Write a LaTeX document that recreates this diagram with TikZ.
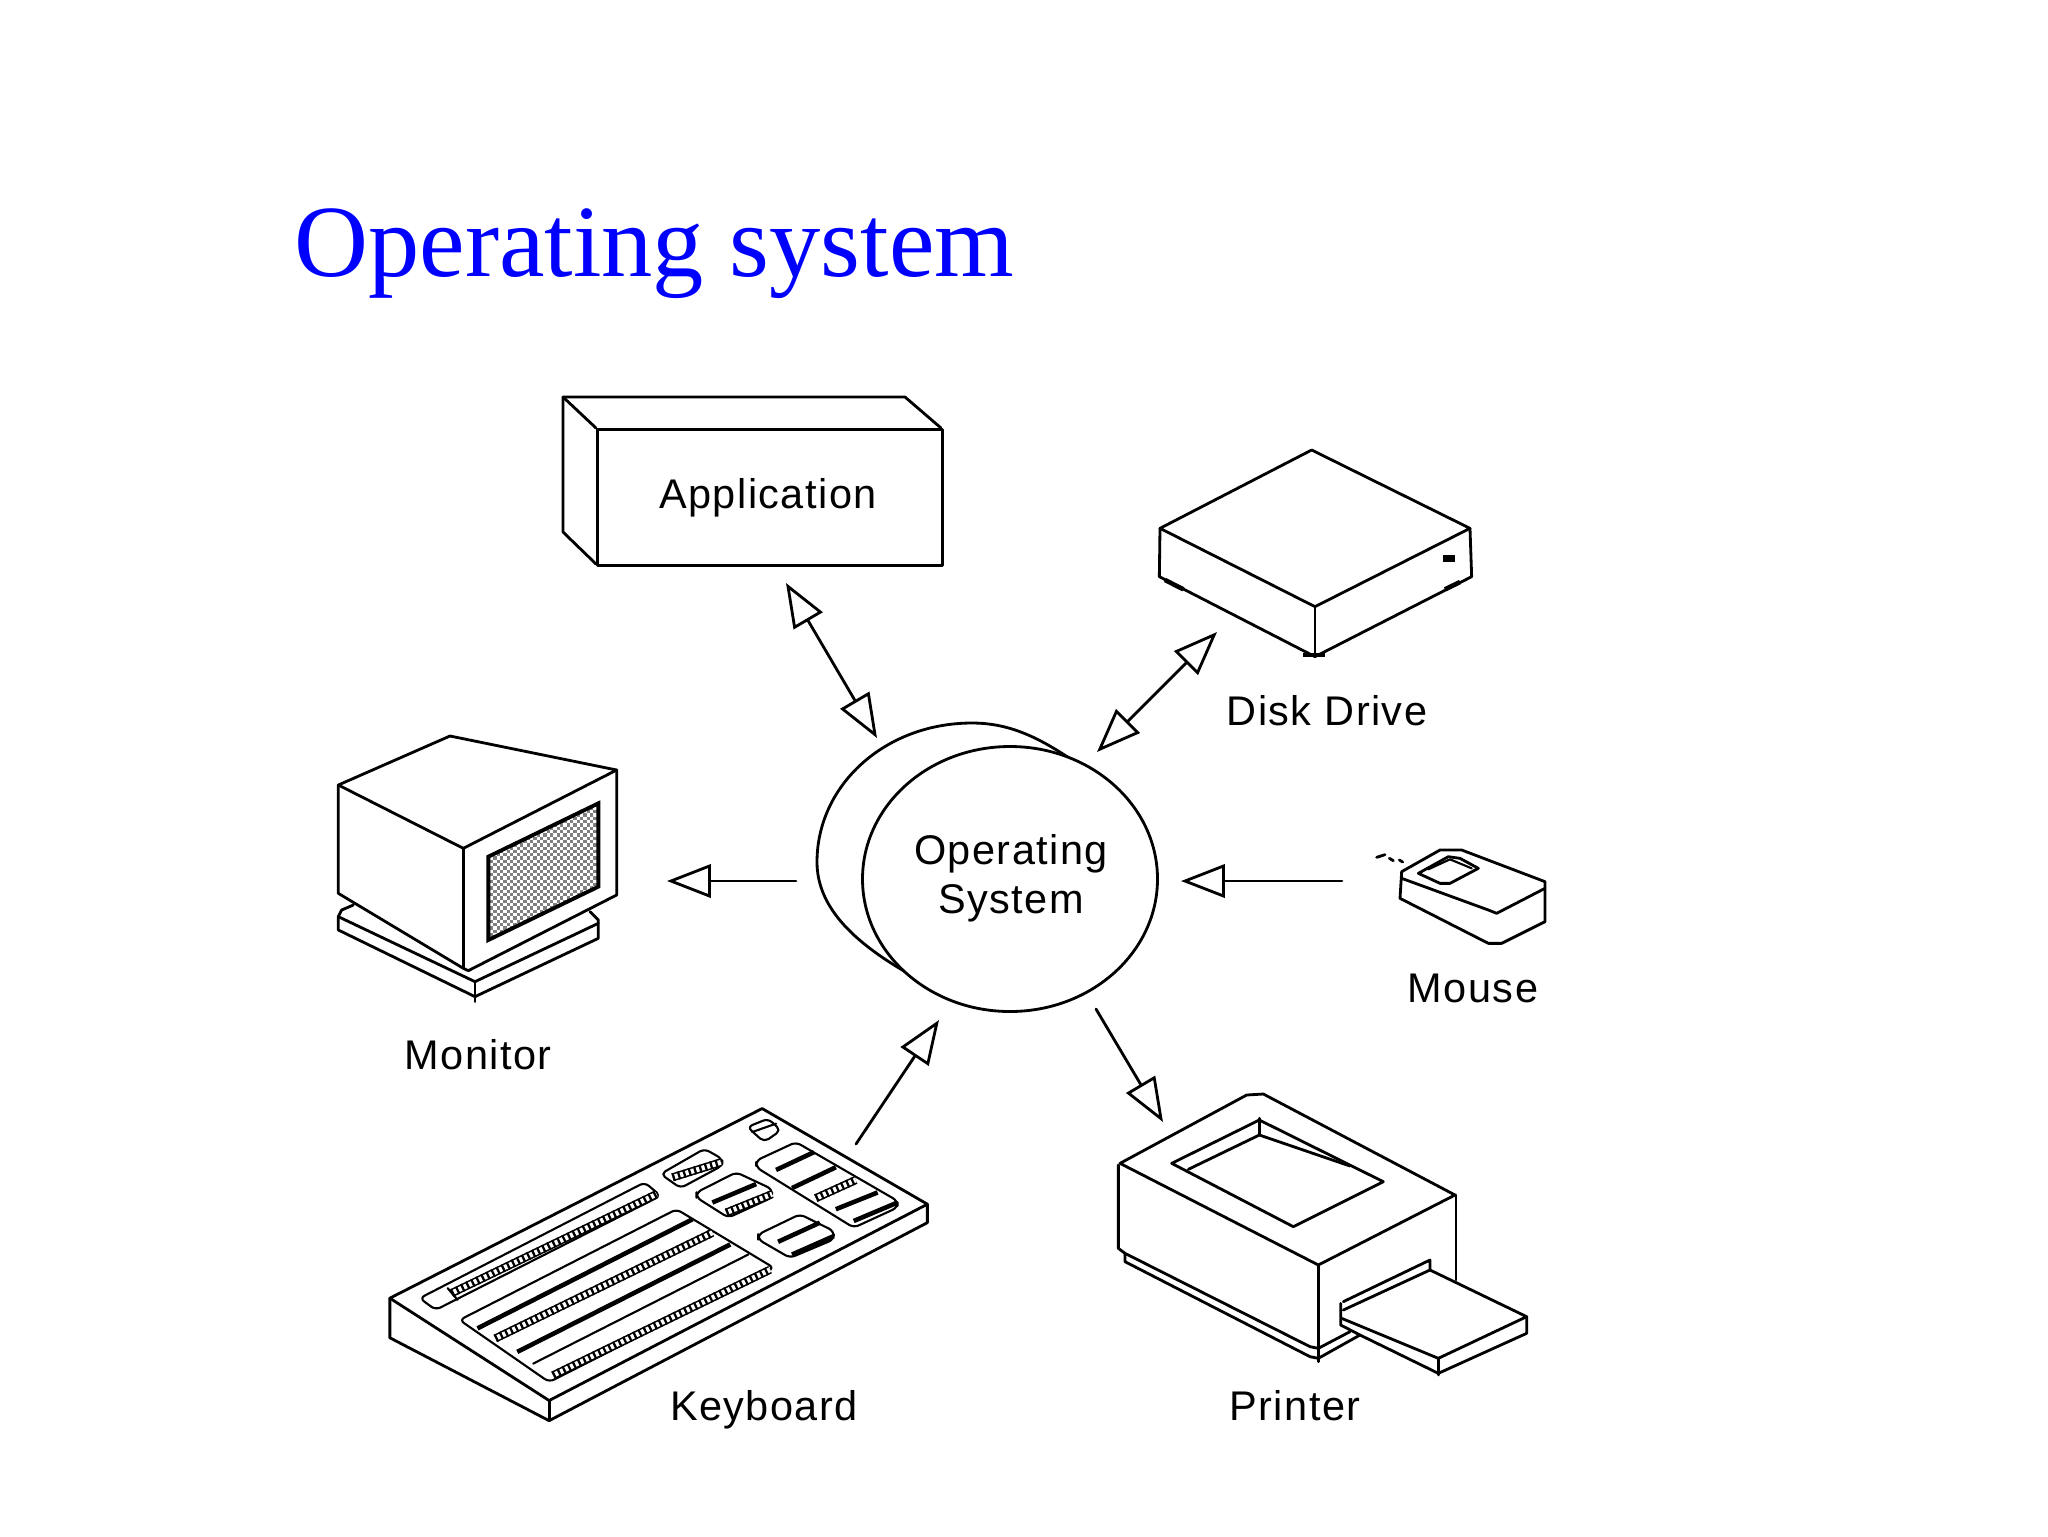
\documentclass[tikz,border=0pt]{standalone}
\usepackage{fontspec}
\setmainfont{Liberation Serif}
\newfontfamily\labfont[LetterSpace=3.5]{Liberation Sans}
\usetikzlibrary{arrows.meta,shapes.geometric}
\tikzset{
  ln/.style={line width=1.6pt,line join=round,line cap=round},
  thin line/.style={line width=1.2pt,rounded corners=3pt},
  thk/.style={line width=2.6pt,line cap=butt},
  lbl/.style={font=\labfont\fontsize{23.6}{28}\selectfont,align=center,inner sep=0pt},
  flow/.style={line width=1.6pt,-{Triangle[open,length=25pt,width=19pt]}},
  flow2/.style={line width=1.6pt,{Triangle[open,length=25pt,width=19pt]}-{Triangle[open,length=25pt,width=19pt]}}
}
\newcommand{\ladder}[4]{%
  \draw[line width=0.9pt,double=white,double distance=2.8pt,line cap=butt] (#1,#2) -- (#3,#4);
  \draw[line width=4.6pt,dash pattern=on 1.3pt off 1.9pt,line cap=butt] (#1,#2) -- (#3,#4);}
\begin{document}
\begin{tikzpicture}[x=0.02cm,y=-0.02cm,ln]
\useasboundingbox (0,0) rectangle (2048,1536);
% title
\node[anchor=base west,inner sep=0pt,text=blue,font=\fontsize{58.3}{60}\selectfont] (title) at (293,276) {Operating system};
% application
\draw (563,397) -- (905,397) -- (941,428);
\draw (563,397) -- (563,532) -- (596,564);
\draw (563,397) -- (596,428);
\node[draw,minimum width=345*0.02cm,minimum height=136*0.02cm,anchor=north west,inner sep=0pt,lbl] (app) at (596,428) {};
\node[lbl] (applbl) at (768,498) {Application};
% OS
\draw (1075,762) .. controls (1040,738) and (1010,723) .. (972,723) .. controls (885,723) and (817,785) .. (817,862) .. controls (817,908) and (855,945) .. (920,980);
\node[draw,fill=white,ellipse,minimum width=295*0.02cm,minimum height=265*0.02cm,inner sep=0pt] (os) at (1010,879) {};
\node[lbl] (oslbl) at (1011,878) {Operating\\System};
% disk drive
\begin{scope}[shift={(1130,430)},x=0.00667cm,y=-0.00667cm]
\draw (545,60) -- (90,295) -- (555,530) -- (1020,295) -- cycle;
\draw (90,295) -- (88,440) -- (555,680) -- (1025,440) -- (1020,295);
\draw (555,530) -- (555,680);
\draw[thk] (105,450) -- (160,478);
\draw[thk] (520,675) -- (585,675);
\draw[thk] (945,478) -- (990,456);
\fill (940,375) rectangle (975,395);
\end{scope}
\node[lbl] (disklbl) at (1327,711) {Disk Drive};
% monitor
\begin{scope}[shift={(320,720)},x=0.00667cm,y=-0.00667cm]
\draw (55,195) -- (390,48) -- (890,150) -- (430,385) -- cycle;
\draw (55,195) -- (55,520) -- (430,745) -- (445,752) -- (890,525) -- (890,150);
\draw (430,385) -- (430,745);
\begin{scope}
\clip (505,410) -- (835,250) -- (835,500) -- (505,660) -- cycle;
\fill[gray] (505,250) rectangle (835,660);
\foreach \k in {0,...,33}{
  \pgfmathsetmacro{\xk}{505+10*\k}
  \ifodd\k
    \draw[white,line width=1.89pt,line cap=butt,dash pattern=on 1.89pt off 1.89pt] (\xk,250) -- (\xk,660);
  \else
    \draw[white,line width=1.89pt,line cap=butt,dash pattern=on 1.89pt off 1.89pt,dash phase=1.89pt] (\xk,250) -- (\xk,660);
  \fi
}
\end{scope}
\draw[line width=2.2pt,line join=miter] (505,410) -- (835,250) -- (835,500) -- (505,660) -- cycle;
\draw (100,555) -- (65,570) -- (55,590) -- (55,630) -- (465,830) -- (835,655) -- (835,600) -- (810,575);
\draw (55,590) -- (465,785) -- (835,610);
\draw (465,785) -- (465,845);
\end{scope}
\node[lbl] (monlbl) at (478,1055) {Monitor};
% mouse
\begin{scope}[shift={(1360,830)},x=0.00667cm,y=-0.00667cm]
\draw (125,125) -- (240,60) -- (305,60) -- (555,155) -- (555,275) -- (425,340) -- (385,340) -- (120,205) -- cycle;
\draw (125,145) -- (385,240) -- (410,250) -- (555,175);
\draw (175,130) -- (265,80) -- (300,85) -- (355,115) -- (270,160) -- (240,160) -- cycle;
\draw[line width=1.2pt] (205,118) -- (270,88) -- (335,115);
\draw (50,82) -- (75,74);
\draw (88,85) -- (100,92);
\draw (118,90) -- (128,96);
\end{scope}
\node[lbl] (mouselbl) at (1473,988) {Mouse};
% keyboard
\begin{scope}[shift={(358,1080)},x=0.00796cm,y=-0.00672cm]
\draw (80,650) -- (1015,85) -- (1430,370) -- (480,955) -- cycle;
\draw (80,650) -- (80,768) -- (480,1015) -- (1430,425) -- (1430,370);
\draw (480,955) -- (480,1015);
\draw[thin line] (155,650) -- (720,305) -- (760,345) -- (195,685) -- cycle;
\ladder{235}{635}{750}{340}
\draw[thin line] (225,620) -- (250,655);
\draw[thin line] (255,715) -- (800,385) -- (1045,560) -- (480,900) -- cycle;
\draw[thk] (300,740) -- (840,415);
\ladder{345}{770}{890}{455}
\draw[thk] (400,810) -- (935,490);
\draw[thin line] (440,845) -- (980,520);
\ladder{490}{880}{1035}{565}
% keypad
\draw[thin line] (978,140) -- (1030,115) -- (1062,150) -- (1020,185) -- cycle;
\draw[thin line] (990,155) -- (1050,130);
\draw[thin line] (760,280) -- (870,205) -- (915,235) -- (915,255) -- (810,322) -- cycle;
\ladder{790}{290}{912}{245}
\draw[thin line] (850,335) -- (950,275) -- (1040,325) -- (1040,350) -- (930,410) -- (850,350) -- cycle;
\draw[thk] (890,365) -- (1000,310);
\ladder{925}{395}{1040}{340}
\draw[thin line] (1000,240) -- (1100,185) -- (1355,360) -- (1355,380) -- (1245,440) -- (1000,260) -- cycle;
\draw[thk] (1050,268) -- (1145,215);
\draw[thk] (1090,322) -- (1200,260);
\ladder{1150}{352}{1250}{298}
\draw[thk] (1200,385) -- (1305,335);
\draw[thk] (1245,420) -- (1355,365);
\draw[thin line] (1005,460) -- (1110,400) -- (1195,450) -- (1195,475) -- (1085,530) -- (1005,475) -- cycle;
\draw[thk] (1055,482) -- (1160,425);
\draw[thk] (1090,520) -- (1195,465);
\end{scope}
\node[lbl] (kblbl) at (764,1410) {Keyboard};
% printer
\begin{scope}[shift={(1100,1080)},x=0.00667cm,y=-0.00667cm]
\draw (60,250) -- (440,45) -- (490,42) -- (1065,345) -- (655,555) -- cycle;
\draw (55,255) -- (55,505) -- (75,520) -- (630,800) -- (655,805) -- (750,755);
\draw (75,520) -- (75,545) -- (630,830) -- (655,835) -- (780,765);
\draw (1068,345) -- (1068,600);
\draw (655,555) -- (655,845);
\draw (215,250) -- (478,120) -- (850,305) -- (580,440) -- cycle;
\draw (265,268) -- (478,165) -- (750,258);
\draw (478,115) -- (478,165);
\draw (730,665) -- (990,540) -- (990,570) -- (730,690);
\draw (722,670) -- (722,735) -- (780,765);
\draw (725,715) -- (1015,835) -- (1280,710) -- (990,570);
\draw (1280,710) -- (1280,760) -- (1015,880) -- (780,765);
\draw (1015,835) -- (1015,885);
\end{scope}
\node[lbl] (prlbl) at (1295,1406) {Printer};
% connectors
\coordinate (a1) at (786,583);
\coordinate (a2) at (877,738);
\coordinate (d1) at (1217,632);
\coordinate (d2) at (1097,752);
\coordinate (m1) at (796,881);
\coordinate (m2) at (667,881);
\coordinate (o1) at (1342,881);
\coordinate (o2) at (1181,881);
\coordinate (k1) at (856,1144);
\coordinate (k2) at (939,1020);
\coordinate (p1) at (1096,1009);
\coordinate (p2) at (1163,1122);
\draw[flow2] (a1) -- (a2);
\draw[flow2] (d1) -- (d2);
\draw[flow] (m1) -- (m2);
\draw[flow] (o1) -- (o2);
\draw[flow] (k1) -- (k2);
\draw[flow] (p1) -- (p2);
\end{tikzpicture}
\end{document}
